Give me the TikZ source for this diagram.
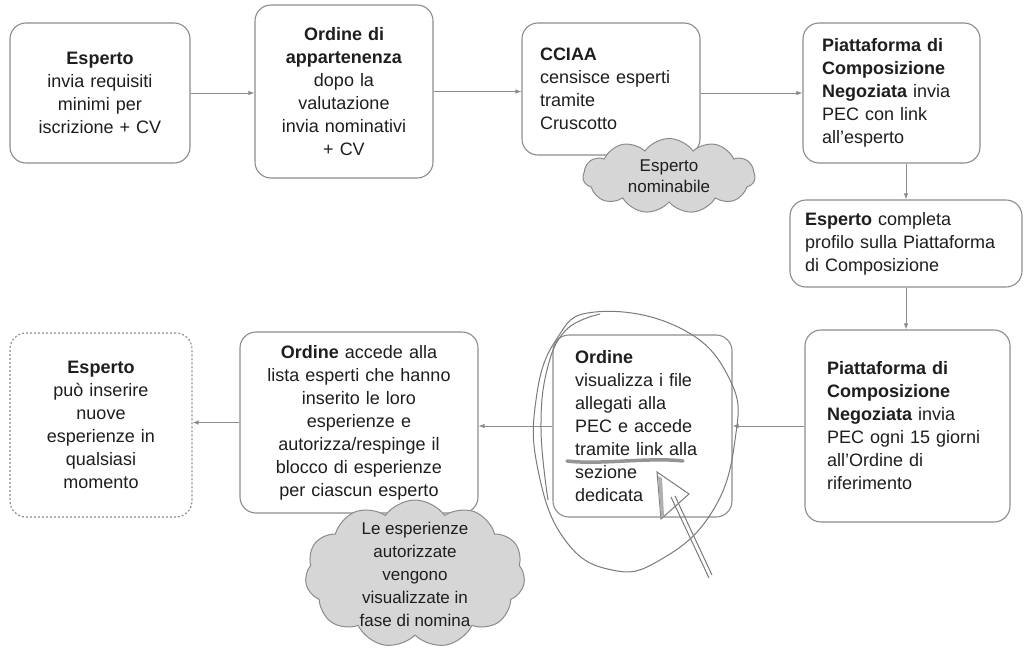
\documentclass[tikz,border=0pt]{standalone}
\usepackage{fontspec}
\setmainfont{Liberation Sans}
\usetikzlibrary{shapes.symbols,arrows.meta}
\definecolor{edge}{HTML}{8C8C8C}
\definecolor{cloudfill}{HTML}{D6D6D6}
\definecolor{txt}{HTML}{1E1E1E}
\definecolor{annot}{HTML}{7A7A7A}
\tikzset{
  box/.style={draw=edge, line width=1.1pt, rounded corners=16pt, fill=white,
    font=\fontsize{18}{23}\selectfont, text=txt, inner ysep=4pt},
  cbox/.style={box, align=center},
  lbox/.style={box, align=left},
  conn/.style={draw=edge, line width=0.9pt, -{Latex[length=6pt,width=4.5pt]}},
  cloudy/.style={cloud, cloud puffs=11, cloud puff arc=110, cloud ignores aspect,
    draw=edge, fill=cloudfill, line width=1pt, inner sep=0pt},
  cloudtext/.style={align=center, text=txt, inner sep=0pt},
  markup/.style={draw=annot, line width=1pt},
}
\begin{document}
\begin{tikzpicture}[x=1pt,y=-1pt]
\useasboundingbox (0,0) rectangle (1028,651);
\fill[white] (0,0) rectangle (1028,651);

% top row
\node[cbox, text width=160pt, inner xsep=10pt, minimum height=140pt] (b1) at (100,93)
  {\textbf{Esperto}\\invia requisiti\\minimi per\\iscrizione + CV};
\node[cbox, text width=158pt, inner xsep=10pt, minimum height=173pt] (b2) at (344,91.5)
  {\textbf{Ordine di}\\\textbf{appartenenza}\\dopo la\\valutazione\\invia nominativi\\+ CV};
\node[lbox, text width=142pt, inner xsep=18pt, minimum height=132pt] (b3) at (611,89)
  {\textbf{CCIAA}\\censisce esperti\\tramite\\Cruscotto};
\node[lbox, text width=139pt, inner xsep=19pt, minimum height=140pt] (b4) at (891.5,93)
  {\textbf{Piattaforma di}\\\textbf{Composizione}\\\textbf{Negoziata} invia\\PEC con link\\all'esperto};

% cloud 1
\node[cloudy, minimum width=172pt, minimum height=75pt] (c1) at (669,176) {};
\node[cloudtext, font=\fontsize{17}{21}\selectfont] (c1t) at (c1.center) {Esperto\\nominabile};

% right column
\node[lbox, text width=202pt, inner xsep=15pt, minimum height=87pt] (b5) at (906,243.5)
  {\textbf{Esperto} completa\\profilo sulla Piattaforma\\di Composizione};
\node[lbox, text width=161pt, inner xsep=22pt, minimum height=192pt] (b6) at (907.5,426)
  {\textbf{Piattaforma di}\\\textbf{Composizione}\\\textbf{Negoziata} invia\\PEC ogni 15 giorni\\all'Ordine di\\riferimento};

% bottom row
\node[lbox, text width=135pt, inner xsep=22pt, minimum height=182pt] (b7) at (642.5,426)
  {\textbf{Ordine}\\visualizza i file\\allegati alla\\PEC e accede\\tramite link alla\\sezione\\dedicata};
\node[cbox, text width=218pt, inner xsep=10pt, minimum height=181pt] (b8) at (359,422.5)
  {\textbf{Ordine} accede alla\\lista esperti che hanno\\inserito le loro\\esperienze e\\autorizza/respinge il\\blocco di esperienze\\per ciascun esperto};
\node[cbox, dash pattern=on 2pt off 2pt, text width=162pt, inner xsep=10pt, minimum height=184pt] (b9) at (101,425)
  {\textbf{Esperto}\\può inserire\\nuove\\esperienze in\\qualsiasi\\momento};

% cloud 2
\node[cloudy, minimum width=220pt, minimum height=148pt] (c2) at (415,574) {};
\node[cloudtext, font=\fontsize{17}{23}\selectfont] (c2t) at (c2.center)
  {Le esperienze\\autorizzate\\vengono\\visualizzate in\\fase di nomina};

% connectors
\draw[conn] (b1.east) -- (b1.east -| b2.west);
\draw[conn] (b2.east) -- (b2.east -| b3.west);
\draw[conn] (b4.west -| b3.east) -- (b4.west);
\draw[conn] (b4.south -| b5.north) -- (b5.north);
\draw[conn] (b5.south) -- (b5.south |- b6.north);
\draw[conn] (b6.west) -- (b6.west -| b7.east);
\draw[conn] (b7.west) -- (b7.west -| b8.east);
\draw[conn] (b8.west) -- (b8.west -| b9.east);

% hand-drawn markup
\draw[markup] plot[smooth cycle, tension=0.75] coordinates
  {(595,312) (680,328) (730,380) (735,440) (712,512) (660,560) (612,570) (565,540) (538,470) (536,400) (556,340)};
\draw[markup] plot[smooth, tension=0.7] coordinates
  {(600,314) (566,330) (547,370) (541,430) (548,500)};
\draw[draw=annot!80, line width=3.5pt, line cap=round]
  (567,461) .. controls (600,465) and (650,457) .. (683,461);
\draw[markup, fill=white] (657,472) -- (689,494) -- (661,519) -- cycle;
\fill[annot!60] (658,476) -- (662,478) -- (664,516) -- (661,518) -- cycle;
\draw[markup] (671,497) -- (709,578);
\draw[markup] (675,496) -- (712,575);
\end{tikzpicture}
\end{document}
